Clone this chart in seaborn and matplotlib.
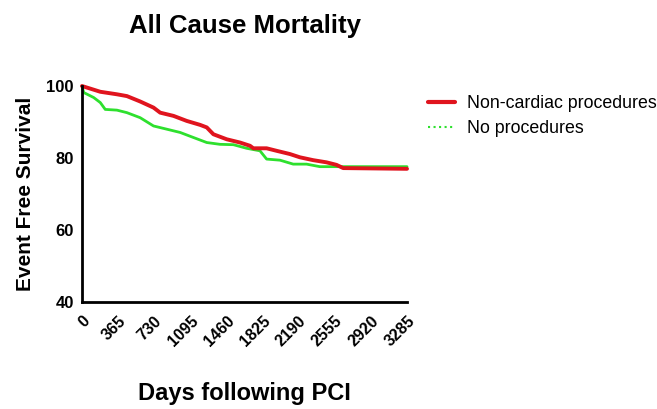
import numpy as np
import pandas as pd
import matplotlib
matplotlib.use("Agg")
import matplotlib.pyplot as plt
import seaborn as sns
from matplotlib.lines import Line2D

red_days = [0, 185, 353, 454, 588, 723, 790, 925, 1059, 1194, 1261, 1328, 1463, 1597, 1698, 1732, 1866, 1967, 2102, 2202, 2337, 2471, 2572, 2640, 3285]
red_vals = [100, 98.4, 97.7, 97.2, 95.7, 94.0, 92.6, 91.7, 90.3, 89.2, 88.5, 86.6, 85.2, 84.3, 83.4, 82.7, 82.7, 82.0, 81.1, 80.2, 79.4, 78.8, 78.1, 77.2, 77.0]
green_days = [0, 17, 118, 185, 235, 353, 454, 588, 723, 858, 992, 1126, 1261, 1395, 1530, 1664, 1799, 1866, 2001, 2135, 2270, 2404, 2539, 2707, 3285]
green_vals = [100, 98.2, 96.8, 95.4, 93.5, 93.3, 92.6, 91.2, 88.9, 88.0, 87.1, 85.7, 84.3, 83.8, 83.7, 82.7, 82.0, 79.7, 79.4, 78.3, 78.3, 77.6, 77.6, 77.6, 77.6]
x_ticks = [0, 365, 730, 1095, 1460, 1825, 2190, 2555, 2920, 3285]
y_ticks = [40, 60, 80, 100]
series_names = ["Non-cardiac procedures", "No procedures"]

sns.set_style("white")
plt.rcParams['font.family'] = ['Liberation Sans', 'DejaVu Sans']
plt.rcParams['text.color'] = 'black'
plt.rcParams['axes.labelcolor'] = 'black'
plt.rcParams['xtick.color'] = 'black'
plt.rcParams['ytick.color'] = 'black'

df = pd.concat([
    pd.DataFrame({"day": red_days, "val": red_vals, "group": series_names[0]}),
    pd.DataFrame({"day": green_days, "val": green_vals, "group": series_names[1]}),
])

fig = plt.figure(figsize=(6.57, 4.09), dpi=100)
ax = fig.add_axes([0.1248, 0.2616, 0.4947, 0.5281])

sns.lineplot(data=df[df.group == series_names[1]], x="day", y="val", ax=ax,
             color="#2ee02e", linewidth=2, legend=False, clip_on=False)
sns.lineplot(data=df[df.group == series_names[0]], x="day", y="val", ax=ax,
             color="#e0141e", linewidth=2.8, legend=False, clip_on=False)

ax.set_xlim(0, 3285)
ax.set_ylim(40, 100)
ax.set_xticks(x_ticks)
ax.set_yticks(y_ticks)
ax.set_xticklabels([str(t) for t in x_ticks], rotation=45, ha="right",
                   rotation_mode="anchor", fontsize=11.5, fontweight="bold")
ax.set_yticklabels([str(t) for t in y_ticks], fontsize=12, fontweight="bold")
for s in ["top", "right"]:
    ax.spines[s].set_visible(False)
for s in ["left", "bottom"]:
    ax.spines[s].set_linewidth(2)
    ax.spines[s].set_color("black")
ax.tick_params(axis="both", direction="out", length=5, width=2, color="black", pad=1)
ax.tick_params(axis="x", pad=3)

ax.set_ylabel("Event Free Survival", fontsize=15, fontweight="bold", labelpad=8)
ax.set_xlabel("Days following PCI", fontsize=17, fontweight="bold", labelpad=24)
ax.set_title("All Cause Mortality", fontsize=18.5, fontweight="bold", pad=38)

handles = [Line2D([0], [0], color="#e0141e", lw=3),
           Line2D([0], [0], color="#2ee02e", lw=1.5, linestyle=":")]
fig.legend(handles, series_names, loc="upper left", bbox_to_anchor=(0.627, 0.807),
           frameon=False, fontsize=12.8, handlelength=1.55, handletextpad=0.67,
           labelspacing=0.45)

fig.savefig("out.png", dpi=100)
